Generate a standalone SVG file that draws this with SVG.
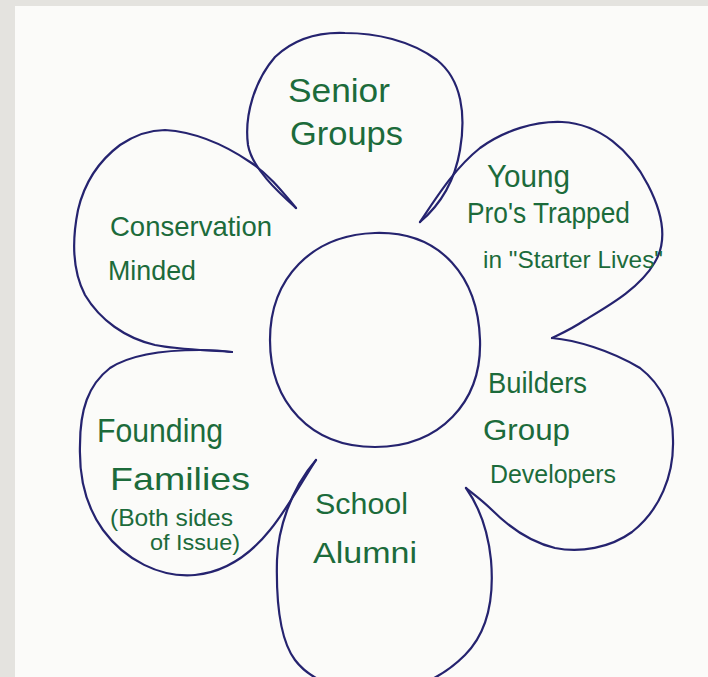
<svg xmlns="http://www.w3.org/2000/svg" width="708" height="677" viewBox="0 0 708 677">
<style>
.p{fill:none;stroke:#25236f;stroke-width:2.2;stroke-linecap:round;stroke-linejoin:round}
.t{font-family:"Liberation Sans",Arial,sans-serif;fill:#1c6b3b}
</style>
<rect x="0" y="0" width="708" height="677" fill="#e4e3df"/>
<rect x="15" y="6" width="693" height="671" fill="#fbfbf9"/>
<g id="center">
<path class="p" d="M375,233 C442,231 478,278 480,340 C482,402 440,447 375,447 C310,447 270,402 270,340 C270,278 312,235 375,233 Z"/>
</g>
<g id="senior-groups">
<path class="p" d="M296,208 C278,192 252,168 248,145 C244,115 255,80 275,57 C295,38 320,32 345,33 C375,33 410,40 437,60 C462,80 466,115 460,150 C455,180 440,205 420,222"/>
<text class="t" font-size="34" x="288" y="102" textLength="102" lengthAdjust="spacingAndGlyphs">Senior</text>
<text class="t" font-size="34" x="290" y="145" textLength="113" lengthAdjust="spacingAndGlyphs">Groups</text>
</g>
<g id="young-pros">
<path class="p" d="M420,222 C438,195 455,168 480,148 C505,130 535,121 562,122 C600,124 630,150 648,185 C662,212 668,240 655,262 C640,288 610,305 585,320 C570,330 560,334 552,338"/>
<text class="t" font-size="32" x="487" y="187" textLength="83" lengthAdjust="spacingAndGlyphs">Young</text>
<text class="t" font-size="30" x="467" y="223" textLength="163" lengthAdjust="spacingAndGlyphs">Pro's Trapped</text>
<text class="t" font-size="24" x="483" y="268" textLength="180" lengthAdjust="spacingAndGlyphs">in "Starter Lives"</text>
</g>
<g id="builders">
<path class="p" d="M552,338 C575,340 610,350 640,368 C662,385 673,410 673,440 C674,475 660,510 632,532 C610,548 580,553 555,548 C530,542 510,528 492,510 C482,500 472,493 466,488"/>
<text class="t" font-size="30" x="488" y="393" textLength="99" lengthAdjust="spacingAndGlyphs">Builders</text>
<text class="t" font-size="30" x="483" y="440" textLength="87" lengthAdjust="spacingAndGlyphs">Group</text>
<text class="t" font-size="26" x="490" y="483" textLength="126" lengthAdjust="spacingAndGlyphs">Developers</text>
</g>
<g id="school-alumni">
<path class="p" d="M466,488 C478,505 488,530 491,560 C494,595 490,630 465,655 C440,680 410,692 375,692 C340,692 310,680 295,660 C280,640 276,600 277,560 C278,530 290,490 316,460"/>
<text class="t" font-size="30" x="315" y="514" textLength="93" lengthAdjust="spacingAndGlyphs">School</text>
<text class="t" font-size="30" x="313" y="563" textLength="104" lengthAdjust="spacingAndGlyphs">Alumni</text>
</g>
<g id="founding-families">
<path class="p" d="M316,460 C300,485 285,512 270,530 C250,555 225,572 195,575 C160,578 125,560 103,530 C85,505 79,475 80,445 C80,410 88,385 110,368 C130,355 160,350 200,350 C215,350 225,351 232,352"/>
<text class="t" font-size="34" x="97" y="442" textLength="126" lengthAdjust="spacingAndGlyphs">Founding</text>
<text class="t" font-size="32" x="110" y="490" textLength="140" lengthAdjust="spacingAndGlyphs">Families</text>
<text class="t" font-size="24" x="110" y="526" textLength="123" lengthAdjust="spacingAndGlyphs">(Both sides</text>
<text class="t" font-size="22" x="150" y="550" textLength="90" lengthAdjust="spacingAndGlyphs">of Issue)</text>
</g>
<g id="conservation-minded">
<path class="p" d="M232,352 C210,350 180,350 155,345 C125,338 100,320 85,295 C72,270 72,240 78,210 C85,180 100,160 120,145 C135,135 150,130 165,130 C195,132 225,145 250,162 C270,175 285,195 296,208"/>
<text class="t" font-size="28" x="110" y="236" textLength="162" lengthAdjust="spacingAndGlyphs">Conservation</text>
<text class="t" font-size="28" x="108" y="280" textLength="88" lengthAdjust="spacingAndGlyphs">Minded</text>
</g>
</svg>
